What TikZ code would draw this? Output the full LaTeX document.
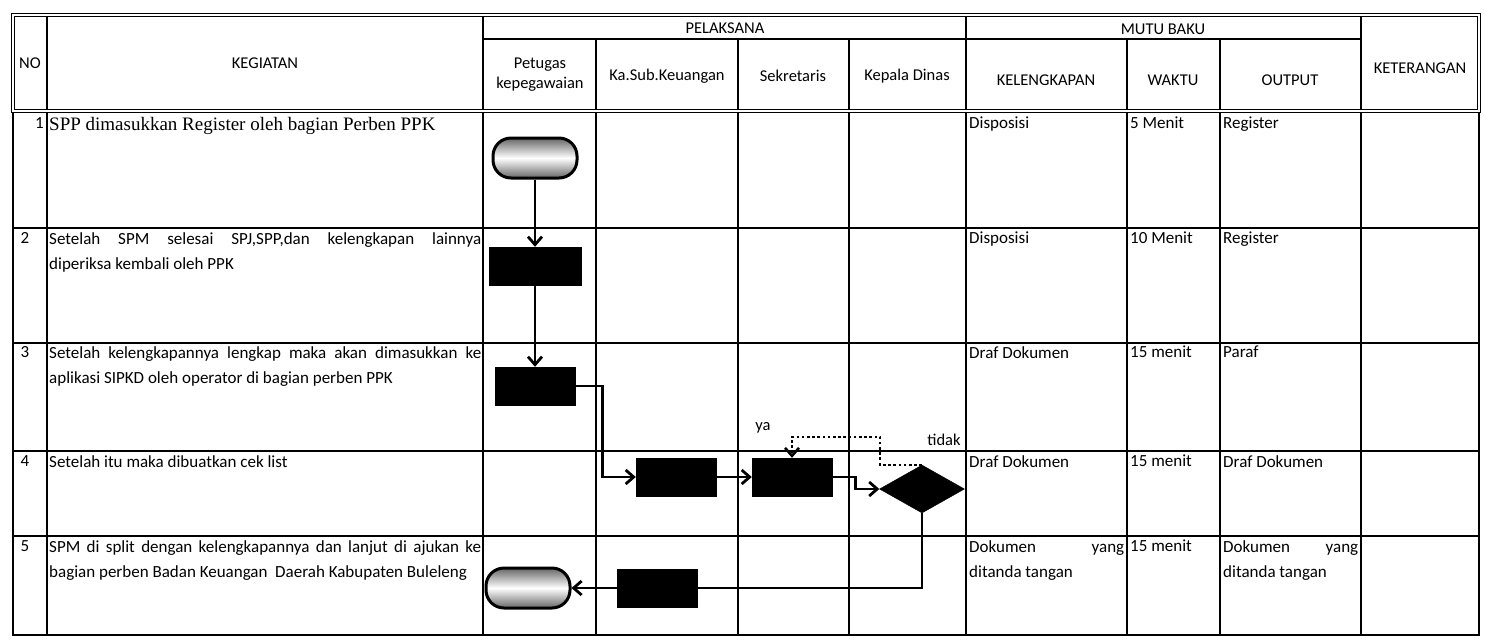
\documentclass[tikz,border=0pt]{standalone}
\usepackage{fontspec}
\setmainfont{Carlito}
\newfontfamily\serifrm{Liberation Serif}
\usetikzlibrary{arrows.meta,positioning,shapes.geometric}

\tikzset{
  grid/.style={line width=1.2pt},
  hdr/.style={double, double distance=1.3pt, line width=0.9pt},
  hd/.style={font=\fontsize{16.5}{20}\selectfont, align=center},
  isi/.style={font=\fontsize{17}{25}\selectfont, anchor=north west, inner sep=0pt, align=justify},
  nomor/.style={font=\fontsize{17}{25}\selectfont, anchor=north, inner sep=0pt},
  proses/.style={draw=black, fill=black, minimum width=80pt, minimum height=38pt, inner sep=0pt},
  terminal/.style={draw=black, line width=3pt, rounded corners=18pt, top color=black!60, bottom color=black!60, middle color=white, minimum width=84pt, minimum height=40pt, inner sep=0pt},
  keputusan/.style={diamond, draw=black, fill=black, minimum width=85pt, minimum height=48pt, inner sep=0pt},
  alur/.style={line width=2.8pt, ->},
  balik/.style={line width=2.6pt, dash pattern=on 2.6pt off 2.6pt, ->},
}

\begin{document}
\begin{tikzpicture}[x=1pt,y=-1pt,>={Straight Barb[length=8pt,width=14pt]}]
  \useasboundingbox (0,0) rectangle (1486,641);
  % tabel
  \foreach \x in {47,483,966,1361} \draw[grid] (\x,15) -- (\x,635);
  \foreach \x in {596,738,849,1127,1220} \draw[grid] (\x,39) -- (\x,635);
  \draw[grid] (483,39) -- (1361,39);
  \foreach \y in {228,343,451,536} \draw[grid] (13,\y) -- (1479,\y);
  \draw[grid] (13,15) rectangle (1479,635);
  \draw[hdr] (13,15) rectangle (1479,111);

  % kepala tabel
  \node[hd] (hno) at (30,63) {NO};
  \node[hd] (hkeg) at (265,63) {KEGIATAN};
  \node[hd] (hpel) at (725,28) {PELAKSANA};
  \node[hd] (hpet) at (540,75) {Petugas\\kepegawaian};
  \node[hd] (hkasub) at (667,76) {Ka.Sub.Keuangan};
  \node[hd] (hsek) at (793,76) {Sekretaris};
  \node[hd] (hkadis) at (907,76) {Kepala Dinas};
  \node[hd] (hmutu) at (1163,29) {MUTU BAKU};
  \node[hd] (hkel) at (1046,80) {KELENGKAPAN};
  \node[hd] (hwaktu) at (1173,80) {WAKTU};
  \node[hd] (hout) at (1290,80) {OUTPUT};
  \node[hd] (hket) at (1420,68) {KETERANGAN};

  % kegiatan
  \node[nomor, anchor=north east] (n1) at (44,117) {1};
  \node[isi, text width=432pt, font=\serifrm\fontsize{19}{25}\selectfont] (k1) at (49,117) {SPP dimasukkan Register oleh bagian Perben PPK};
  \node[nomor] (n2) at (25,232) {2};
  \node[isi, text width=432pt] (k2) at (49,232) {Setelah SPM selesai SPJ,SPP,dan kelengkapan lainnya\linebreak diperiksa kembali oleh PPK};
  \node[nomor] (n3) at (25,346) {3};
  \node[isi, text width=432pt] (k3) at (49,346) {Setelah kelengkapannya lengkap maka akan dimasukkan ke\linebreak aplikasi SIPKD oleh operator di bagian perben PPK};
  \node[nomor] (n4) at (25,455) {4};
  \node[isi, text width=432pt] (k4) at (49,455) {Setelah itu maka dibuatkan cek list};
  \node[nomor] (n5) at (25,540) {5};
  \node[isi, text width=432pt] (k5) at (49,540) {SPM di split dengan kelengkapannya dan lanjut di ajukan ke\linebreak bagian perben Badan Keuangan~ Daerah Kabupaten Buleleng};

  % mutu baku
  \node[isi] (kel1) at (969,117) {Disposisi};
  \node[isi] (wkt1) at (1130,117) {5 Menit};
  \node[isi] (out1) at (1223,117) {Register};
  \node[isi] (kel2) at (969,232) {Disposisi};
  \node[isi] (wkt2) at (1130,232) {10 Menit};
  \node[isi] (out2) at (1223,232) {Register};
  \node[isi] (kel3) at (969,346) {Draf Dokumen};
  \node[isi] (wkt3) at (1130,346) {15 menit};
  \node[isi] (out3) at (1223,346) {Paraf};
  \node[isi] (kel4) at (969,455) {Draf Dokumen};
  \node[isi] (wkt4) at (1130,455) {15 menit};
  \node[isi] (out4) at (1223,455) {Draf Dokumen};
  \node[isi, text width=155pt] (kel5) at (969,540) {Dokumen yang\linebreak ditanda tangan};
  \node[isi] (wkt5) at (1130,540) {15 menit};
  \node[isi, text width=135pt] (out5) at (1223,540) {Dokumen yang\linebreak ditanda tangan};

  % bagan alir
  \node[terminal] (mulai) at (535,158) {};
  \node[proses, minimum width=92pt] (periksa) at (535,266) {};
  \node[proses] (input) at (535,386) {};
  \node[proses] (ceklist) at (676,477) {};
  \node[proses] (sekre) at (792,477) {};
  \node[keputusan] (cek) at (922,489) {};
  \node[proses] (kadis) at (657,588) {};
  \node[terminal] (selesai) at (528,588) {};

  \draw[alur] (mulai) -- (periksa);
  \draw[alur] (periksa) -- (input);
  \draw[alur] (input.east) -- ++(27,0) |- (ceklist.west);
  \draw[alur] (ceklist) -- (sekre);
  \draw[alur] (sekre.east) -- ++(23,0) |- (cek.west);
  \draw[balik] (cek.north) -| ++(-42,-28) -| (sekre.north);
  \draw[line width=2.8pt] (cek.south) |- (kadis.east);
  \draw[alur] (kadis) -- (selesai);

  \node[hd] (ya) at (763,428) {ya};
  \node[hd] (tidak) at (944,440) {tidak};
\end{tikzpicture}
\end{document}
